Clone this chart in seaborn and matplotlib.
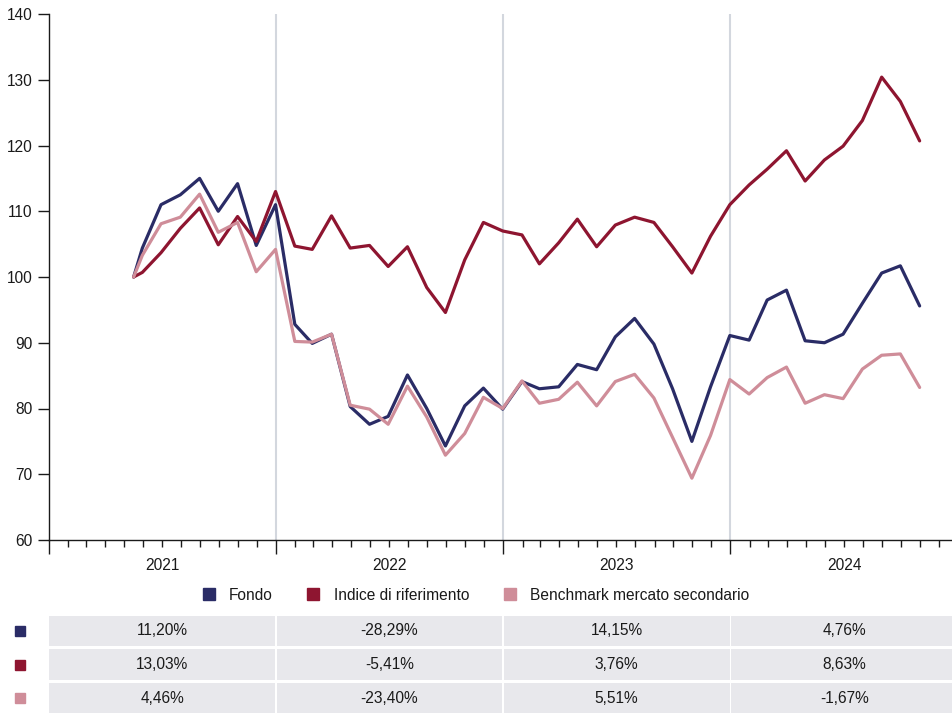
import pandas as pd
import numpy as np
import matplotlib
matplotlib.use("Agg")
import matplotlib.pyplot as plt
import matplotlib.dates as mdates
import matplotlib.transforms as mtransforms
from matplotlib.lines import Line2D
from matplotlib.patches import Rectangle
import seaborn as sns

# serie mensili (base 100 al lancio, poi valori di fine mese)
date_lancio = "2021-05-17"
fine_mese_da = "2021-05-31"
fine_mese_a = "2024-10-31"

fondo = [100, 104.4, 111.0, 112.5, 115.0, 110.0, 114.2, 104.8, 111.0,
         92.8, 89.9, 91.3, 80.3, 77.6, 78.8, 85.1, 80.0, 74.3, 80.4, 83.1, 79.9,
         84.1, 83.0, 83.3, 86.7, 85.9, 90.9, 93.7, 89.8, 83.0, 75.0, 83.3, 91.1,
         90.4, 96.5, 98.0, 90.3, 90.0, 91.3, 96.0, 100.6, 101.7, 95.6]
indice = [100, 100.7, 103.7, 107.4, 110.5, 104.9, 109.2, 105.4, 113.0,
          104.7, 104.2, 109.3, 104.4, 104.8, 101.6, 104.6, 98.4, 94.6, 102.6, 108.3, 107.0,
          106.4, 102.0, 105.2, 108.8, 104.6, 107.9, 109.1, 108.3, 104.6, 100.6, 106.2, 111.0,
          114.0, 116.4, 119.2, 114.6, 117.8, 119.9, 123.8, 130.4, 126.7, 120.7]
benchmark = [100, 103.3, 108.1, 109.1, 112.6, 106.8, 108.3, 100.8, 104.2,
             90.2, 90.1, 91.3, 80.5, 79.9, 77.6, 83.4, 78.7, 72.9, 76.2, 81.7, 80.0,
             84.2, 80.8, 81.4, 84.0, 80.4, 84.1, 85.2, 81.6, 75.6, 69.4, 75.9, 84.4,
             82.2, 84.7, 86.3, 80.8, 82.1, 81.5, 86.0, 88.1, 88.3, 83.2]

serie = ["Fondo", "Indice di riferimento", "Benchmark mercato secondario"]
colori = ["#2a2c66", "#8e1530", "#cf8d99"]

anni = [2021, 2022, 2023, 2024]
perf_fondo = ["11,20%", "-28,29%", "14,15%", "4,76%"]
perf_indice = ["13,03%", "-5,41%", "3,76%", "8,63%"]
perf_benchmark = ["4,46%", "-23,40%", "5,51%", "-1,67%"]

date = pd.DatetimeIndex([pd.Timestamp(date_lancio)]).append(
    pd.date_range(fine_mese_da, fine_mese_a, freq="ME"))

df = pd.concat([
    pd.DataFrame({"data": date, "valore": v, "serie": s})
    for s, v in zip(serie, [fondo, indice, benchmark])
])

sns.set_style("white")
plt.rcParams["font.family"] = ["Liberation Sans", "DejaVu Sans"]
testo = "#1a1a1a"
fs = 11.2

fig = plt.figure(figsize=(9.52, 7.15), dpi=100)
W, H = 952, 715
ax = fig.add_axes([49 / W, 1 - 540 / H, 1 - 49 / W, (540 - 14) / H])

x_min = pd.Timestamp("2021-01-01")
x_max = pd.Timestamp("2024-12-22")

for a in anni[1:]:
    ax.axvline(pd.Timestamp(f"{a}-01-01"), color="#d3d7de", lw=1.5, zorder=0)

sns.lineplot(data=df, x="data", y="valore", hue="serie", hue_order=serie,
             palette=colori, lw=2.3, legend=False, ax=ax, zorder=3)

ax.set_xlim(x_min, x_max)
ax.set_ylim(60, 140)
ax.set_yticks(np.arange(60, 141, 10))
ax.set_xlabel("")
ax.set_ylabel("")
sns.despine(ax=ax, top=True, right=True)
for sp in ["left", "bottom"]:
    ax.spines[sp].set_color(testo)
    ax.spines[sp].set_linewidth(1.0)

ax.xaxis.set_major_locator(mdates.YearLocator())
ax.xaxis.set_minor_locator(mdates.MonthLocator())
ax.xaxis.set_major_formatter(plt.NullFormatter())
ax.tick_params(axis="x", which="major", bottom=True, length=10, width=1.0,
               color=testo, direction="out")
ax.tick_params(axis="x", which="minor", bottom=True, length=5, width=1.0,
               color=testo, direction="out")
ax.tick_params(axis="y", left=True, length=8, width=1.0, color=testo,
               labelsize=fs, labelcolor=testo, pad=4)

trans = mtransforms.blended_transform_factory(ax.transData, ax.transAxes)
for a in anni:
    ax.text(pd.Timestamp(f"{a}-07-02"), -0.048, str(a), transform=trans,
            ha="center", va="center", fontsize=fs, color=testo)

# legenda
handles = [Line2D([], [], marker="s", ls="", color=c, markersize=8) for c in colori]
fig.legend(handles, serie, loc="center", bbox_to_anchor=(0.495, 1 - 595 / H),
           ncol=3, frameon=False, fontsize=fs, handletextpad=0.3,
           columnspacing=1.6, labelcolor=testo)

# tabella delle performance annuali
tab = fig.add_axes([49 / W, 0, 1 - 49 / W, (715 - 614) / H])
tab.set_xlim(x_min, x_max)
tab.set_ylim(3, 0)
tab.axis("off")
righe = [perf_fondo, perf_indice, perf_benchmark]
for i, (vals, c) in enumerate(zip(righe, colori)):
    for a, v in zip(anni, vals):
        x0 = pd.Timestamp(f"{a}-01-01")
        x1 = pd.Timestamp(f"{a + 1}-01-01")
        if x1 > x_max:
            x1 = x_max + pd.Timedelta(days=10)
        x0n = mdates.date2num(x0) + (1.5 if a > anni[0] else 0)
        x1n = mdates.date2num(x1) - 1.5
        tab.add_patch(Rectangle((x0n, i + 0.05), x1n - x0n, 0.9,
                                facecolor="#e8e8ec", edgecolor="none"))
        xc = mdates.date2num(pd.Timestamp(f"{a}-07-02"))
        tab.text(xc, i + 0.5, v, ha="center", va="center", fontsize=fs, color=testo)
    tab.plot([pd.Timestamp("2020-11-16")], [i + 0.5], marker="s", ls="",
             color=c, markersize=7, clip_on=False)

fig.savefig("out.png", dpi=100)
